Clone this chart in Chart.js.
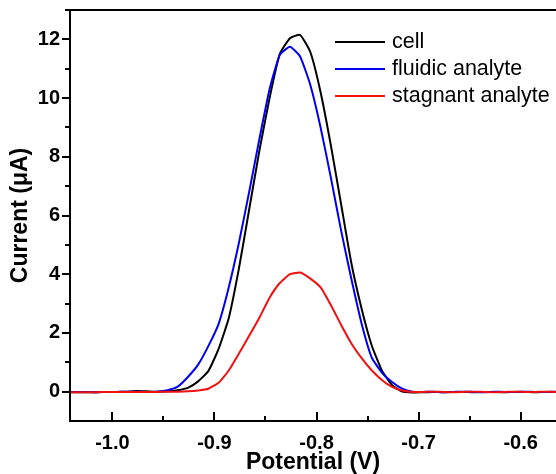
<!DOCTYPE html>
<html>
<head>
<meta charset="utf-8">
<script src="https://cdn.jsdelivr.net/npm/chart.js@4.4.1/dist/chart.umd.min.js"></script>
<style>
  html, body { margin: 0; padding: 0; background: #fff; }
  #wrap { width: 556px; height: 474px; position: relative; }
</style>
</head>
<body>
<div id="wrap"><canvas id="chart_dpv"></canvas></div>
<script>
// potential (V), one sample every 10 mV
var potential = [
  -1.046, -1.036, -1.026, -1.016, -1.006, -0.996, -0.986, -0.976, -0.966, -0.956,
  -0.946, -0.936, -0.926, -0.916, -0.906, -0.896, -0.886, -0.876, -0.866, -0.856,
  -0.846, -0.836, -0.826, -0.816, -0.806, -0.796, -0.786, -0.776, -0.766, -0.756,
  -0.746, -0.736, -0.726, -0.716, -0.706, -0.696, -0.686, -0.676, -0.666, -0.656,
  -0.646, -0.636, -0.626, -0.616, -0.606, -0.596, -0.586, -0.576, -0.566, -0.556
];
// current (uA)
var cellCurrent = [
  -0.02, -0.02, -0.02, -0.02, -0.01, -0.01, 0.00, 0.02, 0.01, 0.00,
  0.01, 0.05, 0.13, 0.35, 0.70, 1.45, 2.50, 4.20, 6.20, 8.20,
  10.00, 11.50, 12.04, 12.15, 11.56, 10.20, 8.40, 6.40, 4.40, 2.85,
  1.58, 0.72, 0.22, 0.00, -0.03, -0.02, -0.01, -0.02, -0.01, -0.01,
  -0.02, -0.01, -0.01, -0.02, -0.01, -0.01, -0.02, -0.01, -0.01, -0.01
];
var fluidicCurrent = [
  -0.01, -0.01, -0.01, -0.02, -0.01, -0.01, 0.00, 0.00, -0.01, 0.00,
  0.05, 0.17, 0.50, 0.92, 1.55, 2.30, 3.55, 5.07, 6.80, 8.60,
  10.30, 11.47, 11.75, 11.41, 10.44, 9.00, 7.30, 5.50, 3.86, 2.34,
  1.17, 0.65, 0.33, 0.10, 0.00, -0.01, 0.00, -0.02, -0.01, 0.00,
  -0.01, -0.02, 0.00, -0.01, -0.01, 0.00, -0.01, -0.01, 0.00, 0.00
];
var stagnantCurrent = [
  -0.02, -0.02, -0.02, -0.02, -0.01, -0.01, -0.01, -0.01, -0.01, -0.01,
  0.00, 0.00, 0.01, 0.04, 0.10, 0.30, 0.72, 1.30, 1.90, 2.52,
  3.20, 3.70, 4.00, 4.06, 3.85, 3.55, 2.95, 2.28, 1.65, 1.15,
  0.73, 0.40, 0.16, 0.04, -0.01, -0.01, 0.00, -0.01, -0.02, -0.01,
  0.00, -0.01, -0.02, -0.01, 0.00, -0.01, -0.01, 0.00, -0.01, -0.01
];
var seriesLabels = ['cell', 'fluidic analyte', 'stagnant analyte'];
var seriesColors = ['#000000', '#0000f0', '#f01010'];
var xTickValues = [-1.0, -0.9, -0.8, -0.7, -0.6];
var yTickValues = [0, 2, 4, 6, 8, 10, 12];

function toPoints(ys) {
    return ys.map(function(y, i) { return { x: potential[i], y: y }; });
}

var FONT = "'Liberation Sans', Arial, sans-serif";

// frame, inward x ticks, outward y ticks, with minor ticks
var framePlugin = {
    id: 'frame',
    afterDraw: function(chart) {
        var ctx = chart.ctx, a = chart.chartArea;
        var xs = chart.scales.x, ys = chart.scales.y;
        ctx.save();
        ctx.strokeStyle = '#000';
        ctx.lineWidth = 2;
        ctx.beginPath();
        ctx.moveTo(chart.width, a.top);
        ctx.lineTo(a.left, a.top);
        ctx.lineTo(a.left, a.bottom);
        ctx.lineTo(chart.width, a.bottom);
        ctx.stroke();
        ctx.beginPath();
        xTickValues.forEach(function(v) {
            var px = Math.round(xs.getPixelForValue(v));
            ctx.moveTo(px, a.bottom);
            ctx.lineTo(px, a.bottom - 9);
            var pm = Math.round(xs.getPixelForValue(v + 0.05));
            if (pm < chart.width) {
                ctx.moveTo(pm, a.bottom);
                ctx.lineTo(pm, a.bottom - 5);
            }
        });
        yTickValues.forEach(function(v) {
            var py = Math.round(ys.getPixelForValue(v));
            ctx.moveTo(a.left, py);
            ctx.lineTo(a.left - 8, py);
            var pm = Math.round(ys.getPixelForValue(v + 1));
            ctx.moveTo(a.left, pm);
            ctx.lineTo(a.left - 5, pm);
        });
        ctx.stroke();
        ctx.restore();
    }
};

// legend in the upper right of the plot
var legendPlugin = {
    id: 'innerLegend',
    afterDraw: function(chart) {
        var ctx = chart.ctx;
        ctx.save();
        ctx.font = '21.5px ' + FONT;
        ctx.textBaseline = 'middle';
        ctx.fillStyle = '#000';
        seriesLabels.forEach(function(lbl, i) {
            var y = 42 + i * 27;
            ctx.strokeStyle = seriesColors[i];
            ctx.lineWidth = 2;
            ctx.beginPath();
            ctx.moveTo(335, y);
            ctx.lineTo(385, y);
            ctx.stroke();
            ctx.fillText(lbl, 392, y);
        });
        ctx.restore();
    }
};

var chart_dpv = new Chart(document.getElementById('chart_dpv'), {
    type: 'line',
    data: {
        datasets: [
            { label: seriesLabels[0], data: toPoints(cellCurrent), borderColor: seriesColors[0], order: 3 },
            { label: seriesLabels[1], data: toPoints(fluidicCurrent), borderColor: seriesColors[1], order: 2 },
            { label: seriesLabels[2], data: toPoints(stagnantCurrent), borderColor: seriesColors[2], order: 1 }
        ]
    },
    options: {
        animation: false,
        responsive: true,
        maintainAspectRatio: false,
        layout: { autoPadding: false, padding: { left: 0, top: 10, right: 0, bottom: 0 } },
        elements: {
            line: { borderWidth: 2, tension: 0.15, fill: false },
            point: { radius: 0 }
        },
        plugins: {
            legend: { display: false },
            tooltip: { enabled: false }
        },
        scales: {
            x: {
                type: 'linear',
                min: -1.0415,
                max: -0.5654,
                grid: { display: false },
                border: { display: false },
                afterBuildTicks: function(scale) {
                    scale.ticks = xTickValues.map(function(v) { return { value: v }; });
                },
                ticks: {
                    padding: 2,
                    color: '#000',
                    font: { family: FONT, size: 20, weight: 'bold' },
                    callback: function(value) { return value.toFixed(1); }
                },
                title: {
                    display: true,
                    text: 'Potential (V)',
                    color: '#000',
                    padding: { top: 0, bottom: 0 },
                    font: { family: FONT, size: 23, weight: 'bold', lineHeight: 1.0 }
                },
                afterFit: function(scale) {
                    scale.height = 53;
                    scale.paddingLeft = 0;
                    scale.paddingRight = 0;
                }
            },
            y: {
                type: 'linear',
                min: -1,
                max: 13,
                grid: { display: false },
                border: { display: false },
                afterBuildTicks: function(scale) {
                    scale.ticks = yTickValues.map(function(v) { return { value: v }; });
                },
                ticks: {
                    padding: 2,
                    color: '#000',
                    font: { family: FONT, size: 20, weight: 'bold' }
                },
                title: {
                    display: true,
                    text: 'Current (\u03BCA)',
                    color: '#000',
                    padding: { top: 9, bottom: 0 },
                    font: { family: FONT, size: 23, weight: 'bold', lineHeight: 1.0 }
                },
                afterFit: function(scale) {
                    scale.width = 70;
                    scale.paddingTop = 0;
                    scale.paddingBottom = 0;
                }
            }
        }
    },
    plugins: [framePlugin, legendPlugin]
});
</script>
</body>
</html>
